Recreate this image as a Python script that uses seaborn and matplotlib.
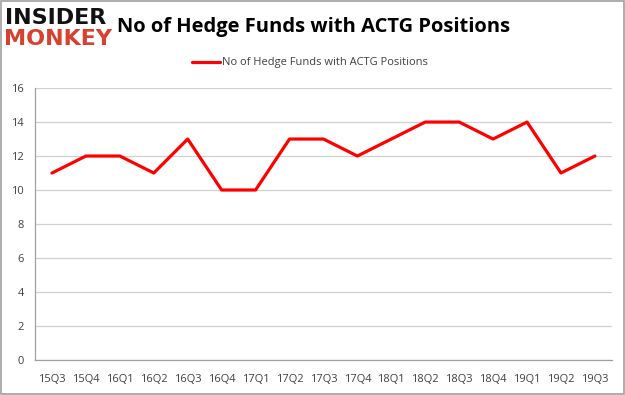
import matplotlib
matplotlib.use("Agg")
import matplotlib.pyplot as plt
import seaborn as sns
import numpy as np
import pandas as pd
from matplotlib.patches import Rectangle

quarters = ['15Q3', '15Q4', '16Q1', '16Q2', '16Q3', '16Q4', '17Q1', '17Q2', '17Q3',
            '17Q4', '18Q1', '18Q2', '18Q3', '18Q4', '19Q1', '19Q2', '19Q3']
funds = [11, 12, 12, 11, 13, 10, 10, 13, 13, 12, 13, 14, 14, 13, 14, 11, 12]
series_name = 'No of Hedge Funds with ACTG Positions'

df = pd.DataFrame({'Quarter': quarters, 'Funds': funds})

sns.set_style("white")
plt.rcParams['font.family'] = ['Open Sans', 'DejaVu Sans']

fig = plt.figure(figsize=(6.25, 3.95), dpi=100)
ax = fig.add_axes([0.056, 0.089, 0.923, 0.688])

sns.lineplot(data=df, x='Quarter', y='Funds', color='#ff0000', linewidth=2.3,
             ax=ax, legend=False, sort=False)

ax.set_xlim(-0.5, len(quarters) - 0.5)
ax.set_ylim(0, 16)
ax.set_yticks(range(0, 17, 2))
ax.yaxis.grid(True, color='#d0d0d0', linewidth=0.9)
ax.set_axisbelow(True)
ax.set_xlabel('')
ax.set_ylabel('')

ax.set_xticks(range(len(quarters)))
ax.set_xticklabels(quarters)
ax.set_xticks(np.arange(-0.5, len(quarters), 1), minor=True)
ax.tick_params(axis='x', which='major', length=0, pad=10, labelsize=8, colors='#404040')
ax.tick_params(axis='x', which='minor', length=4, color='#a0a0a0', direction='out')
ax.tick_params(axis='y', length=0, pad=8, labelsize=8, colors='#404040')

for side in ['top', 'right']:
    ax.spines[side].set_visible(False)
for side in ['left', 'bottom']:
    ax.spines[side].set_color('#a0a0a0')
    ax.spines[side].set_linewidth(0.9)

# title and legend
fig.text(0.502, 0.932, series_name, ha='center', va='center',
         fontsize=14.5, fontweight='bold', color='#000000')
fig.lines.append(plt.Line2D([0.307, 0.352], [0.843, 0.843], color='#ff0000',
                            linewidth=2.3, transform=fig.transFigure))
fig.text(0.356, 0.843, series_name, ha='left', va='center', fontsize=8, color='#404040')

# logo
fig.text(0.008, 0.955, 'INSIDER', ha='left', va='center', fontsize=16,
         fontweight='heavy', color='#111111', family='DejaVu Sans')
fig.text(0.006, 0.902, 'MONKEY', ha='left', va='center', fontsize=16,
         fontweight='heavy', color='#d8402f', family='DejaVu Sans')

# outer border
fig.patches.append(Rectangle((0.001, 0.002), 0.997, 0.995, transform=fig.transFigure,
                             fill=False, edgecolor='#a0a0a0', linewidth=1.2))

fig.savefig('out.png', dpi=100)
